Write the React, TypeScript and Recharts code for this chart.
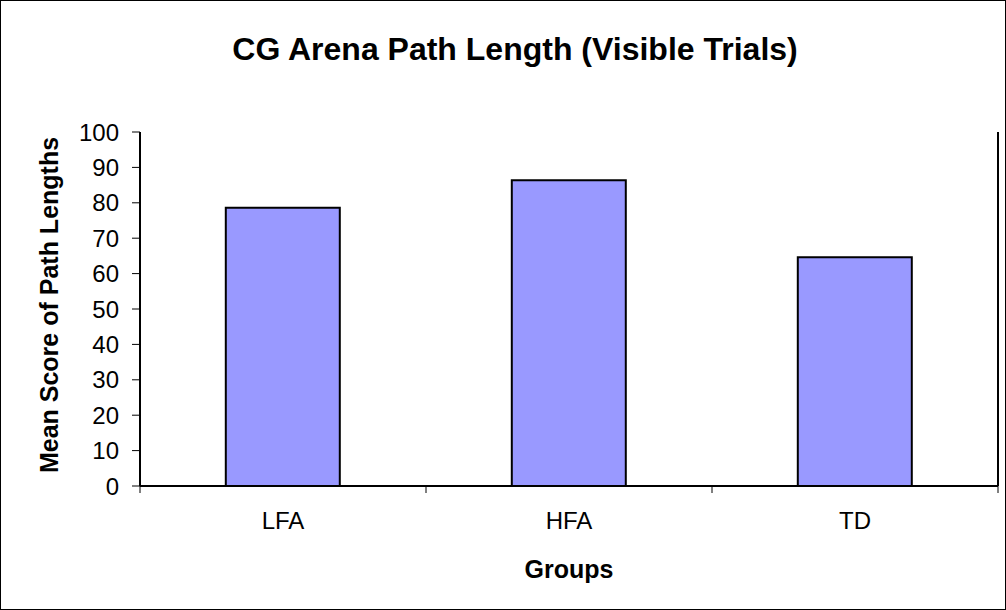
import { BarChart, Bar, XAxis, YAxis, Label } from "recharts";

const groups = ["LFA", "HFA", "TD"];
const meanPathLength = [78.6, 86.4, 64.6];
const yTicks = [0, 10, 20, 30, 40, 50, 60, 70, 80, 90, 100];

const data = groups.map((g, i) => ({ group: g, value: meanPathLength[i] }));

const FONT = "'Liberation Sans', Arial, sans-serif";

function GroupTick(props: any) {
  const { x, y, payload, index } = props;
  const half = payload?.offset ?? 0;
  const last = index === groups.length - 1;
  return (
    <g>
      <line x1={x - half} y1={y} x2={x - half} y2={y + 7} stroke="#000" strokeWidth={1} />
      {last && <line x1={x + half} y1={y} x2={x + half} y2={y + 7} stroke="#000" strokeWidth={1} />}
      <text x={x} y={y + 43} textAnchor="middle" fontSize={24} fontFamily={FONT} fill="#000">
        {payload.value}
      </text>
    </g>
  );
}

export default function App() {
  return (
    <div
      style={{
        position: "absolute",
        left: 0,
        top: 0,
        width: 1006,
        height: 610,
        border: "1px solid #000",
        boxSizing: "border-box",
        background: "#fff",
        fontFamily: FONT,
      }}
    >
      <div
        style={{
          position: "absolute",
          left: 0,
          width: 1028,
          top: 32,
          textAlign: "center",
          fontSize: 32,
          lineHeight: 1,
          fontWeight: "bold",
          color: "#000",
        }}
      >
        CG Arena Path Length (Visible Trials)
      </div>
      <div style={{ position: "absolute", left: -1, top: -1 }}>
        <BarChart
          width={1006}
          height={610}
          data={data}
          margin={{ top: 132, right: 0, bottom: 0, left: 0 }}
          barCategoryGap="30%"
        >
          <XAxis
            dataKey="group"
            height={124}
            tickLine={false}
            tickSize={0}
            tickMargin={0}
            axisLine={{ stroke: "#000", strokeWidth: 2 }}
            tick={<GroupTick />}
            interval={0}
          >
            <Label
              content={(p: any) => {
                const vb = p.viewBox;
                return (
                  <text
                    x={vb.x + vb.width / 2}
                    y={vb.y + 92}
                    textAnchor="middle"
                    fontSize={25}
                    fontWeight="bold"
                    fontFamily={FONT}
                    fill="#000"
                  >
                    Groups
                  </text>
                );
              }}
            />
          </XAxis>
          <XAxis
            xAxisId="top"
            dataKey="group"
            orientation="top"
            height={0}
            tick={false}
            tickLine={false}
            axisLine={{ stroke: "#000", strokeWidth: 2 }}
          />
          <YAxis
            width={140}
            domain={[0, 100]}
            ticks={yTicks}
            interval={0}
            tickSize={8}
            tickMargin={13}
            tickLine={{ stroke: "#000" }}
            axisLine={{ stroke: "#000", strokeWidth: 2 }}
            tick={{ fontSize: 24, fill: "#000", fontFamily: FONT }}
          >
            <Label
              content={(p: any) => {
                const vb = p.viewBox;
                const cx = 58;
                const cy = vb.y + vb.height / 2 - 4;
                return (
                  <text
                    x={cx}
                    y={cy}
                    transform={`rotate(-90 ${cx} ${cy})`}
                    textAnchor="middle"
                    fontSize={25}
                    fontWeight="bold"
                    fontFamily={FONT}
                    fill="#000"
                  >
                    Mean Score of Path Lengths
                  </text>
                );
              }}
            />
          </YAxis>
          <YAxis
            yAxisId="right"
            orientation="right"
            width={8}
            domain={[0, 100]}
            tick={false}
            tickLine={false}
            axisLine={{ stroke: "#000", strokeWidth: 2 }}
          />
          <Bar dataKey="value" fill="#9999FF" stroke="#000" strokeWidth={2} isAnimationActive={false} />
        </BarChart>
      </div>
    </div>
  );
}
